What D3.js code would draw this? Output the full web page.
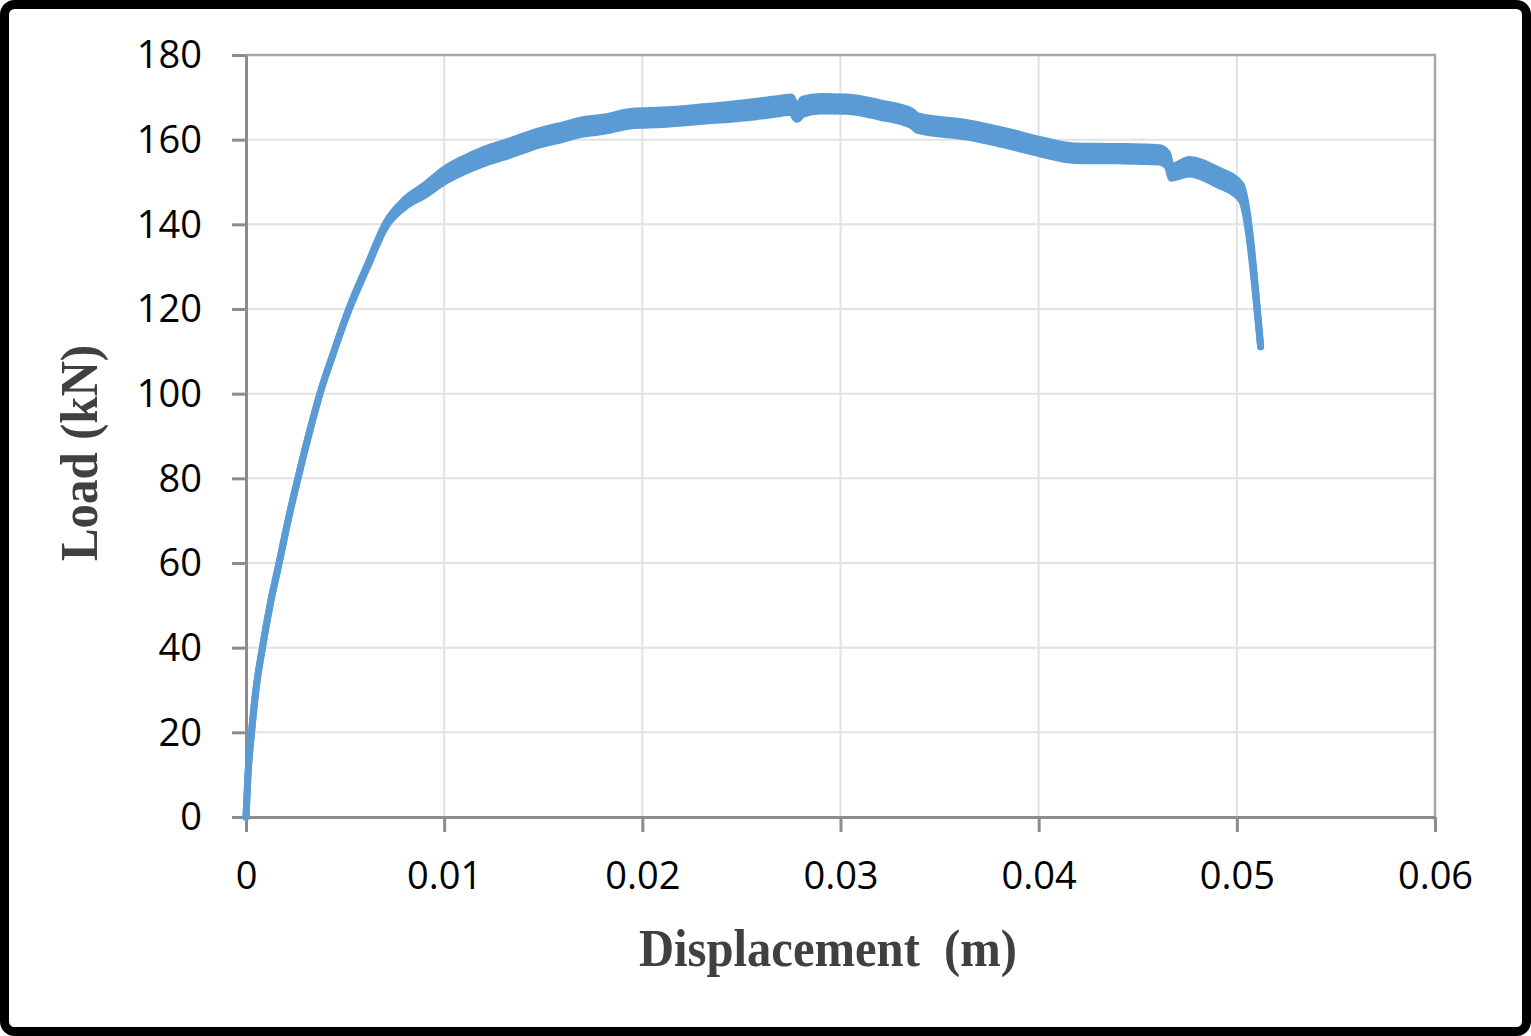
<!DOCTYPE html>
<html><head><meta charset="utf-8">
<script src="https://cdn.jsdelivr.net/npm/d3@7"></script>
<style>body{margin:0;background:#fff} svg{display:block}</style>
</head><body>
<svg id="c" width="1531" height="1036"></svg>
<script>
// Displacement (m)
const displacement = [0, 0.00010, 0.00028, 0.00050, 0.00083, 0.00121, 0.00167, 0.00212, 0.00262, 0.00315,
  0.00373, 0.00444, 0.00520, 0.00611, 0.00707, 0.00802, 0.0090, 0.0100, 0.0110, 0.0120,
  0.0135, 0.0145, 0.0160, 0.0170, 0.0180, 0.0195, 0.0210, 0.0229, 0.0253, 0.0270,
  0.0275, 0.0278, 0.0281, 0.0290, 0.0303, 0.0320, 0.0336, 0.0339, 0.0364, 0.0384,
  0.0401, 0.0418, 0.0439, 0.0461, 0.0465, 0.0467, 0.0476, 0.0490, 0.0502, 0.0512];
// Load (kN) – mean line
const load = [0, 10, 20, 30, 40, 50, 60, 70, 80, 90,
  100, 110, 120, 130, 140, 145, 148, 151.5, 154, 156,
  158.3, 160, 161.8, 163, 163.6, 165, 165.3, 166, 167, 168,
  168.3, 166.2, 167.8, 168.5, 168.4, 167, 165, 163.9, 162.3, 160.3,
  158.3, 156.8, 156.7, 156.4, 155.2, 152.3, 153.6, 151.2, 147.7, 111.1];
// Load oscillation half-amplitude (kN)
const scatter = [0, 0, 0, 0, 0, 0, 0, 0, 0, 0,
  0, 0, 0.2, 0.3, 0.5, 0.9, 1.2, 1.5, 1.6, 1.7,
  1.7, 1.7, 1.7, 1.7, 1.7, 1.7, 1.7, 1.7, 1.8, 1.8,
  1.8, 1.4, 1.8, 1.7, 1.7, 1.7, 1.7, 1.7, 1.7, 1.7,
  1.7, 1.7, 1.7, 1.7, 1.6, 1.4, 1.7, 1.8, 1.8, 0];
const xTicks = [0, 0.01, 0.02, 0.03, 0.04, 0.05, 0.06];
const xTickLabels = ["0", "0.01", "0.02", "0.03", "0.04", "0.05", "0.06"];
const yTicks = [0, 20, 40, 60, 80, 100, 120, 140, 160, 180];
const yTickLabels = ["0", "20", "40", "60", "80", "100", "120", "140", "160", "180"];

const points = displacement.map((d, i) => ({ d, l: load[i], s: scatter[i] }));

const svg = d3.select("#c");
const L = 246, R = 1435, T = 55, B = 817;
const x = d3.scaleLinear().domain([0, 0.06]).range([L, R]);
const y = d3.scaleLinear().domain([0, 180]).range([B, T]);

svg.append("rect").attr("width", 1531).attr("height", 1036).attr("fill", "#fff");

// gridlines
svg.append("g").selectAll("line").data(yTicks.filter(v => v > 0 && v < 180)).join("line")
  .attr("x1", L).attr("x2", R).attr("y1", d => y(d)).attr("y2", d => y(d))
  .attr("stroke", "#e2e2e2").attr("stroke-width", 2);
svg.append("g").selectAll("line").data(xTicks.filter(v => v > 0 && v < 0.06)).join("line")
  .attr("y1", T).attr("y2", B).attr("x1", d => x(d)).attr("x2", d => x(d))
  .attr("stroke", "#e2e2e2").attr("stroke-width", 2);

// plot border (top/right)
svg.append("path").attr("d", `M${L},${T}H${R}V${B}`).attr("fill", "none")
  .attr("stroke", "#a6a6a6").attr("stroke-width", 2.5);

// axes
const font = "'Open Sans', 'Noto Sans', sans-serif";
const xAxis = svg.append("g").attr("transform", `translate(0,${B})`)
  .call(d3.axisBottom(x).tickValues(xTicks).tickSize(15).tickSizeOuter(0)
    .tickFormat((d, i) => xTickLabels[i]));
const yAxis = svg.append("g").attr("transform", `translate(${L},0)`)
  .call(d3.axisLeft(y).tickValues(yTicks).tickSize(14).tickSizeOuter(0)
    .tickFormat((d, i) => yTickLabels[i]));
[xAxis, yAxis].forEach(a => {
  a.select(".domain").attr("stroke", "#8c8c8c").attr("stroke-width", 3);
  a.selectAll(".tick line").attr("stroke", "#8c8c8c").attr("stroke-width", 3);
  a.selectAll("text").attr("fill", "#000").attr("font-family", font).attr("font-size", 38);
});
xAxis.selectAll("text").attr("y", null).attr("dy", null).attr("y", 72);
yAxis.selectAll("text").attr("x", -44).attr("dy", "0.34em");

// data band + line
const area = d3.area().x(p => x(p.d)).y0(p => y(p.l - p.s)).y1(p => y(p.l + p.s)).curve(d3.curveMonotoneX);
svg.append("path").datum(points).attr("d", area).attr("fill", "#5b9bd5")
  .attr("stroke", "#5b9bd5").attr("stroke-width", 7).attr("stroke-linejoin", "round");
const line = d3.line().x(p => x(p.d)).y(p => y(p.l)).curve(d3.curveMonotoneX);
svg.append("path").datum(points).attr("d", line).attr("fill", "none")
  .attr("stroke", "#5b9bd5").attr("stroke-width", 7).attr("stroke-linecap", "round")
  .attr("stroke-linejoin", "round");

// axis titles
const serif = "'Liberation Serif', 'Times New Roman', serif";
svg.append("text").attr("x", 828).attr("y", 966).attr("text-anchor", "middle")
  .attr("font-family", serif).attr("font-weight", "bold").attr("font-size", 52)
  .attr("fill", "#404040").attr("textLength", 378).attr("lengthAdjust", "spacingAndGlyphs")
  .style("white-space", "pre").text("Displacement  (m)");
svg.append("text").attr("transform", "translate(97,453) rotate(-90)").attr("text-anchor", "middle")
  .attr("font-family", serif).attr("font-weight", "bold").attr("font-size", 52)
  .attr("fill", "#404040").attr("textLength", 216).attr("lengthAdjust", "spacingAndGlyphs")
  .text("Load (kN)");

// outer frame
svg.append("rect").attr("x", 4.5).attr("y", 4.5).attr("width", 1522).attr("height", 1027)
  .attr("rx", 10).attr("fill", "none").attr("stroke", "#000").attr("stroke-width", 9);
</script>
</body></html>
